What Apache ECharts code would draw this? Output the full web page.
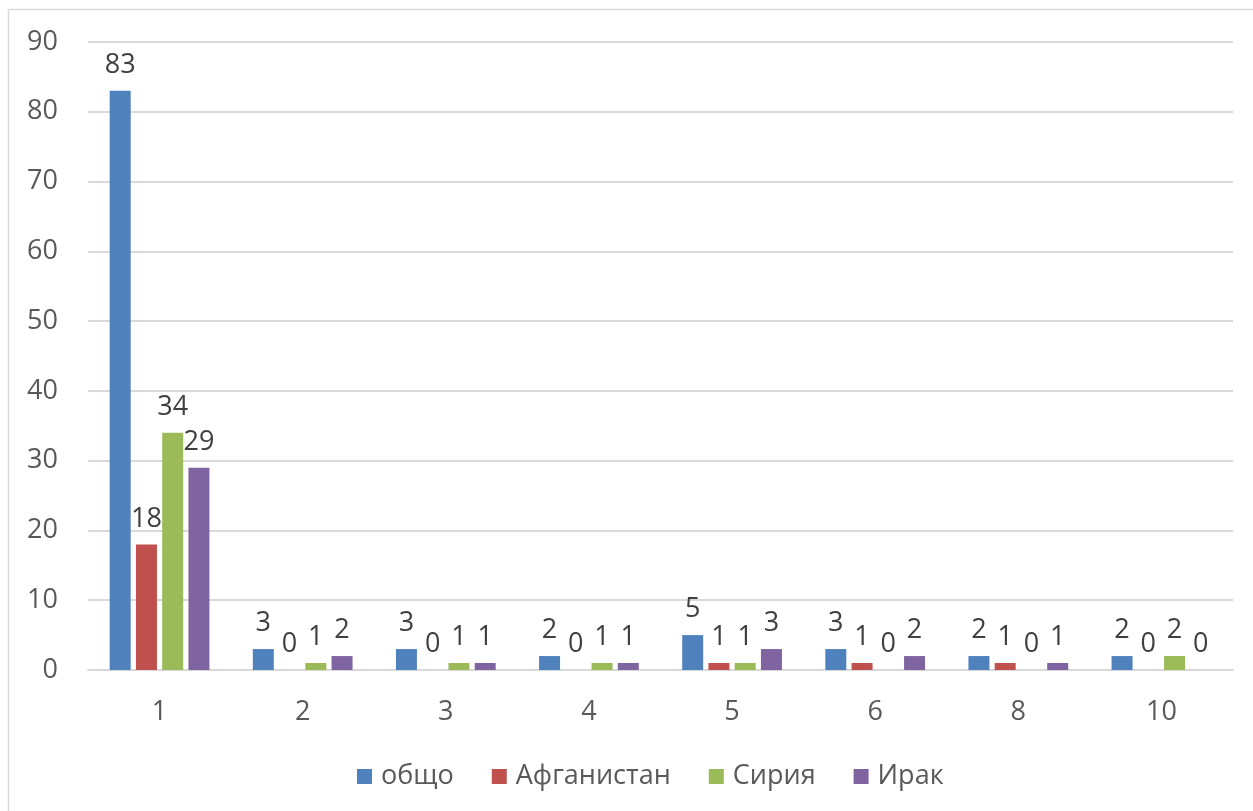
<!DOCTYPE html>
<html>
<head>
<meta charset="utf-8">
<script src="https://cdn.jsdelivr.net/npm/echarts@6/dist/echarts.min.js"></script>
<style>
  html, body { margin: 0; padding: 0; background: #fff; }
  #chart { width: 1253px; height: 811px; }
</style>
</head>
<body>
<div id="chart"></div>
<script>
  // categories and series
  var categories = ['1', '2', '3', '4', '5', '6', '8', '10'];
  var seriesNames = ['общо', 'Афганистан', 'Сирия', 'Ирак'];
  var obshto = [83, 3, 3, 2, 5, 3, 2, 2];
  var afganistan = [18, 0, 0, 0, 1, 1, 1, 0];
  var siria = [34, 1, 1, 1, 1, 0, 0, 2];
  var irak = [29, 2, 1, 1, 3, 2, 1, 0];
  var colors = ['#4F81BD', '#C0504D', '#9BBB59', '#8064A2'];

  var font = '"Open Sans", "Noto Sans", sans-serif';
  var fs = 27;

  function makeSeries(name, data, color) {
    return {
      name: name,
      type: 'bar',
      data: data,
      barWidth: 21,
      barGap: '25%',
      itemStyle: { color: color },
      label: {
        show: true,
        position: 'top',
        distance: 12,
        color: '#404040',
        fontSize: fs,
        fontFamily: font
      }
    };
  }

  var chart = echarts.init(document.getElementById('chart'));
  chart.setOption({
    animation: false,
    color: colors,
    grid: { left: 88, right: 20, top: 42, bottom: 141, containLabel: false },
    graphic: [
      { type: 'line', shape: { x1: 8.5, y1: 9.5, x2: 1260, y2: 9.5 }, style: { stroke: '#d9d9d9', lineWidth: 1.5 } },
      { type: 'line', shape: { x1: 8.5, y1: 9.5, x2: 8.5, y2: 820 }, style: { stroke: '#d9d9d9', lineWidth: 1.5 } }
    ],
    legend: {
      data: seriesNames,
      left: 352,
      top: 758,
      itemWidth: 15,
      itemHeight: 15,
      itemGap: 38,
      icon: 'rect',
      textStyle: { color: '#595959', fontSize: fs, fontFamily: font, padding: [0, 0, 0, 4] }
    },
    xAxis: {
      type: 'category',
      data: categories,
      axisLine: { lineStyle: { color: '#d9d9d9', width: 2 } },
      axisTick: { show: false },
      axisLabel: { color: '#595959', fontSize: fs, fontFamily: font, margin: 29 }
    },
    yAxis: {
      type: 'value',
      min: 0,
      max: 90,
      interval: 10,
      axisLine: { show: false },
      axisTick: { show: false },
      splitLine: { lineStyle: { color: '#d9d9d9', width: 2 } },
      axisLabel: { color: '#595959', fontSize: fs, fontFamily: font, margin: 30 }
    },
    series: [
      makeSeries(seriesNames[0], obshto, colors[0]),
      makeSeries(seriesNames[1], afganistan, colors[1]),
      makeSeries(seriesNames[2], siria, colors[2]),
      makeSeries(seriesNames[3], irak, colors[3])
    ]
  });
</script>
</body>
</html>
